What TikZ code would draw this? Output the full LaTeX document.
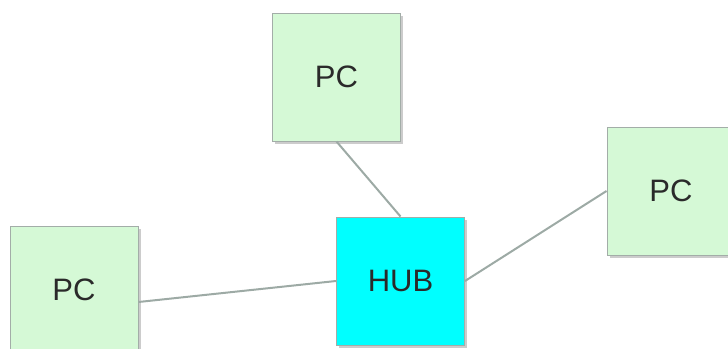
\documentclass[tikz,border=0pt]{standalone}
\usepackage{fontspec}
\setmainfont{Liberation Sans}
\usepackage{tikz}
\usetikzlibrary{shadows}
\definecolor{pcfill}{HTML}{D5F9D6}
\definecolor{hubfill}{HTML}{00FFFF}
\definecolor{rim}{HTML}{A3ADA8}
\definecolor{wire}{HTML}{9DAAA5}
\definecolor{label}{HTML}{2A2A2A}

\begin{document}
\begin{tikzpicture}[
  x=1pt, y=-1pt,
  device/.style={
    rectangle,
    draw=rim,
    line width=1pt,
    minimum size=128pt,
    inner sep=0pt,
    text=label,
    font=\fontsize{31}{36}\selectfont,
    drop shadow={shadow xshift=2.5pt, shadow yshift=-2.5pt, fill=black!40}
  },
  pc/.style={device, fill=pcfill},
  hubbox/.style={device, fill=hubfill},
  link/.style={line width=2pt, draw=wire}
]
\useasboundingbox (0,0) rectangle (728,348);

\node[pc] (pctop) at (336.5,77) {PC};
\node[pc] (pcright) at (671,191) {PC};
\node[pc] (pcleft) at (74,290) {PC};
\node[hubbox] (hub) at (400.5,281) {HUB};

\draw[link] (pctop.south) -- (hub.north);
\draw[link] (hub.east) -- (pcright.west);
\draw[link] ([yshift=-12pt]pcleft.east) -- (hub.west);
\end{tikzpicture}
\end{document}
